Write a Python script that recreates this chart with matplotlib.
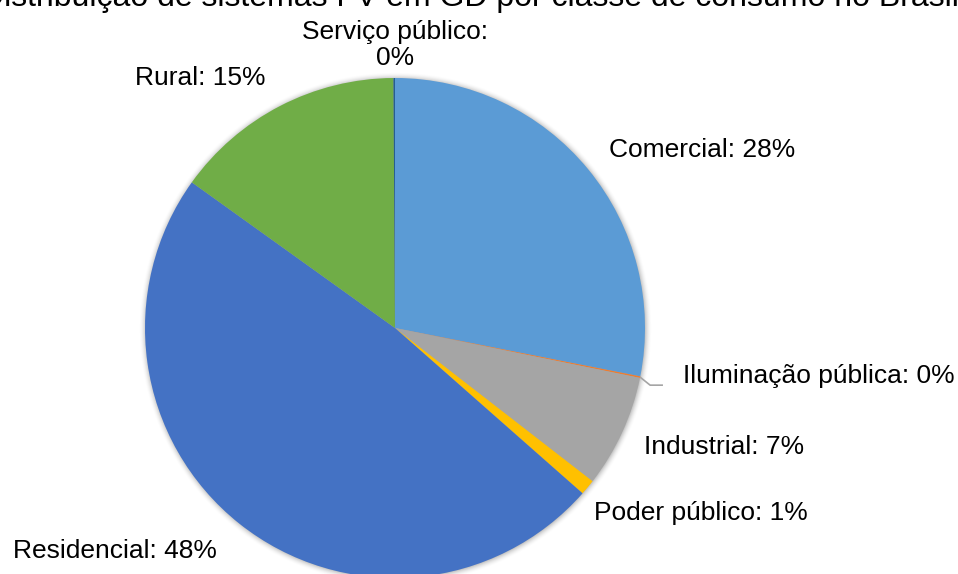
import numpy as np
import matplotlib.pyplot as plt

plt.rcParams['font.family'] = ['Liberation Sans', 'DejaVu Sans']

# participação por classe de consumo (%), sentido horário a partir do topo
classes = ["Comercial", "Iluminação pública", "Industrial", "Poder público",
           "Residencial", "Rural", "Serviço público"]
valores = [28.1, 0.1, 7.3, 1.0, 48.4, 15.0, 0.1]
cores = ["#5B9BD5", "#ED7D31", "#A5A5A5", "#FFC000", "#4472C4", "#70AD47", "#255E91"]

titulo = "Distribuição de sistemas FV em GD por classe de consumo no Brasil"

# posição dos rótulos em pixels (x, y a partir do topo) e alinhamento
pos_rotulos = {
    "Comercial": (702, 150, "center"),
    "Iluminação pública": (683, 376, "left"),
    "Industrial": (724, 447, "center"),
    "Poder público": (701, 513, "center"),
    "Residencial": (115, 551, "center"),
    "Rural": (200, 78, "center"),
    "Serviço público": (395, 45, "center"),
}

W, H = 958, 574
cx, cy, r = 395, 328, 250

fig = plt.figure(figsize=(W / 100, H / 100), dpi=100)

# sombra suave em volta da pizza
fundo = fig.add_axes([0, 0, 1, 1])
fundo.set_axis_off()
yy, xx = np.mgrid[0:H, 0:W]
d = np.hypot(xx - cx, yy - cy)
alpha = np.clip(1 - (d - r + 2) / 9, 0, 1) ** 2 * 0.35
img = np.zeros((H, W, 4))
img[..., 3] = alpha
fundo.imshow(img, extent=[0, W, H, 0], interpolation="bilinear")
fundo.set_xlim(0, W)
fundo.set_ylim(H, 0)

ax = fig.add_axes([(cx - r) / W, (H - cy - r) / H, 2 * r / W, 2 * r / H])
fatias, _ = ax.pie(valores, colors=cores, startangle=90, counterclock=False,
                   radius=1, wedgeprops=dict(linewidth=0))
ax.set_xlim(-1, 1)
ax.set_ylim(-1, 1)
ax.set_aspect("equal")
ax.set_axis_off()

total = sum(valores)
for nome, v in zip(classes, valores):
    x, y, ha = pos_rotulos[nome]
    pct = f"{v / total * 100:.0f}%"
    if nome == "Serviço público":
        texto = f"{nome}:\n{pct}"
    else:
        texto = f"{nome}: {pct}"
    fig.text(x / W, 1 - y / H, texto, ha=ha, va="center", fontsize=19,
             color="#000000", linespacing=1.12)

# linha de chamada da iluminação pública
ang = np.deg2rad(90 - 360 * (sum(valores[:1]) + valores[1] / 2) / total)
px, py = cx + r * np.cos(ang), cy - r * np.sin(ang)
fundo.plot([px, px + 10, px + 22], [py, py + 8, py + 8], color="#A5A5A5", lw=1.2)

fig.text(470 / W, 1 - 6 / H, titulo, ha="center", va="baseline", fontsize=23,
         color="#000000")

fig.savefig("out.png", dpi=100)
